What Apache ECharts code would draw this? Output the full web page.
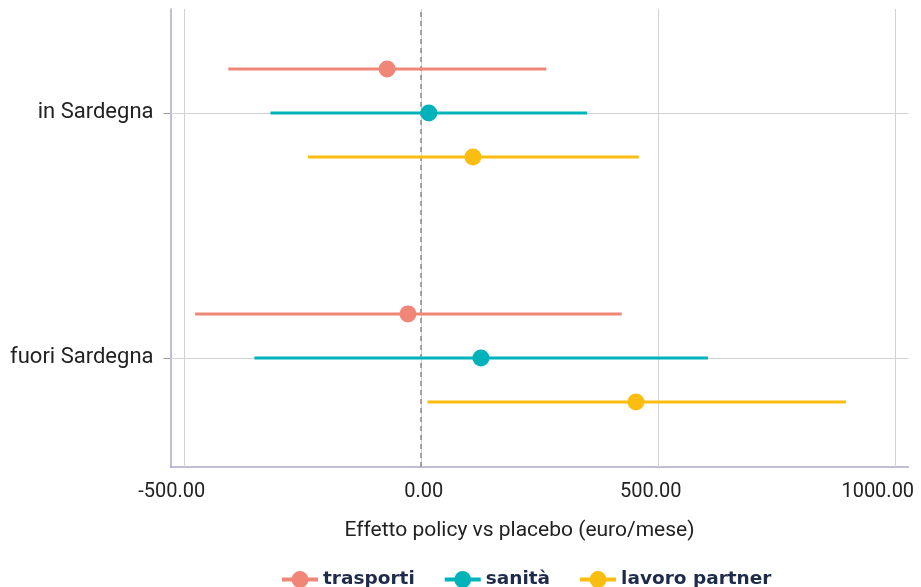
<!DOCTYPE html>
<html>
<head>
<meta charset="utf-8">
<script src="https://cdn.jsdelivr.net/npm/echarts@6/dist/echarts.min.js"></script>
<style>html,body{margin:0;padding:0;background:#fff;}#c{width:921px;height:587px;}</style>
</head>
<body>
<div id="c"></div>
<script>
// y positions: 1 = fuori Sardegna, 2 = in Sardegna
const categories = ['fuori Sardegna', 'in Sardegna'];
const categoryPos = [1, 2];
const groups = ['trasporti', 'sanità', 'lavoro partner'];
const trasportiLow = [-476, -406];
const trasportiMid = [-27, -71];
const trasportiHigh = [424, 265];
const sanitaLow = [-351, -317];
const sanitaMid = [127, 17];
const sanitaHigh = [606, 351];
const lavoroLow = [14, -238];
const lavoroMid = [454, 110];
const lavoroHigh = [897, 460];
const xTicks = [-500, 0, 500, 1000];
const xTitle = 'Effetto policy vs placebo (euro/mese)';

const colors = ['#F08677', '#00B2B9', '#FBBD10'];
const dodge = [0.18, 0, -0.18];
// label placement nudges (px, negative = left) to mimic the reference's label offsets
const xLabelNudge = [-12, 3, -7, -17];
const lows = [trasportiLow, sanitaLow, lavoroLow];
const mids = [trasportiMid, sanitaMid, lavoroMid];
const highs = [trasportiHigh, sanitaHigh, lavoroHigh];

const labelFont = 'Roboto';
const series = [];
groups.forEach((g, i) => {
  series.push({
    type: 'line', name: g, data: [], symbol: 'circle', symbolSize: 17,
    itemStyle: { color: colors[i] }, lineStyle: { color: colors[i], width: 4 }
  });
});
// gridlines
series.push({
  type: 'custom', name: '_grid', silent: true, z: 1,
  data: [], renderItem: () => null,
  markLine: {
    silent: true, symbol: 'none', animation: false,
    label: { show: false },
    lineStyle: { color: '#d2d2d2', width: 1, type: 'solid' },
    data: xTicks.map(v => ({ xAxis: v })).concat(categoryPos.map(v => ({ yAxis: v })))
  }
});
// zero line
series.push({
  type: 'custom', name: '_zero', silent: true, z: 2,
  data: [], renderItem: () => null,
  markLine: {
    silent: true, symbol: 'none', animation: false,
    label: { show: false },
    lineStyle: { color: '#8a8a8a', width: 1.5, type: [5, 4] },
    data: [{ xAxis: 0 }]
  }
});
groups.forEach((g, i) => {
  const data = categoryPos.map((p, k) => [p + dodge[i], lows[i][k], mids[i][k], highs[i][k]]);
  series.push({
    type: 'custom', name: g, z: 5,
    encode: { x: [1, 2, 3], y: 0 },
    data: data,
    renderItem: function (params, api) {
      const y = api.value(0);
      const a = api.coord([api.value(1), y]);
      const m = api.coord([api.value(2), y]);
      const b = api.coord([api.value(3), y]);
      return {
        type: 'group',
        children: [
          { type: 'line', shape: { x1: a[0], y1: a[1], x2: b[0], y2: b[1] },
            style: { stroke: colors[i], lineWidth: 3 } },
          { type: 'circle', shape: { cx: m[0], cy: m[1], r: 8.5 },
            style: { fill: colors[i] } }
        ]
      };
    }
  });
});

const xRich = { t: { fontFamily: labelFont, fontSize: 20, color: '#222' } };
xLabelNudge.forEach((n, i) => { xRich['s' + i] = { width: Math.abs(n) * 2, height: 1 }; });

const chart = echarts.init(document.getElementById('c'), null, { renderer: 'canvas' });
chart.setOption({
  animation: false,
  backgroundColor: '#fff',
  grid: { left: 170.5, right: 12.5, top: 9, bottom: 120, containLabel: false, outerBoundsMode: 'none' },
  legend: {
    data: groups, left: 275, top: 565,
    itemWidth: 36, itemHeight: 21, itemGap: 28,
    lineStyle: { width: 4 },
    textStyle: { fontFamily: 'DejaVu Sans', fontWeight: 'bold', fontSize: 18.5, color: '#1f2b4a' }
  },
  xAxis: {
    type: 'value', min: -528, max: 1029,
    name: xTitle, nameLocation: 'middle', nameGap: 53,
    nameTextStyle: { fontFamily: labelFont, fontSize: 21, color: '#222', padding: [0, 40, 0, 0] },
    axisLine: { show: true, onZero: false, lineStyle: { color: '#aaa8cc', width: 1.5 } },
    axisTick: { show: false },
    splitLine: { show: false },
    axisLabel: {
      customValues: xTicks, margin: 15,
      fontFamily: labelFont, fontSize: 20, color: '#222',
      rich: xRich,
      formatter: v => {
        const i = xTicks.indexOf(Number(v));
        const txt = '{t|' + Number(v).toFixed(2) + '}';
        if (i < 0 || xLabelNudge[i] === 0) return txt;
        return xLabelNudge[i] < 0 ? txt + '{s' + i + '|}' : '{s' + i + '|}' + txt;
      }
    }
  },
  yAxis: {
    type: 'value', min: 0.555, max: 2.4245,
    axisLine: { show: true, onZero: false, lineStyle: { color: '#aaa8cc', width: 1.5 } },
    axisTick: { show: true, customValues: categoryPos, length: 7, lineStyle: { color: '#999' } },
    splitLine: { show: false },
    axisLabel: {
      customValues: categoryPos, margin: 17,
      fontFamily: labelFont, fontSize: 22, color: '#222',
      formatter: v => categories[categoryPos.indexOf(Math.round(v))] || ''
    }
  },
  series: series
});
</script>
</body>
</html>
